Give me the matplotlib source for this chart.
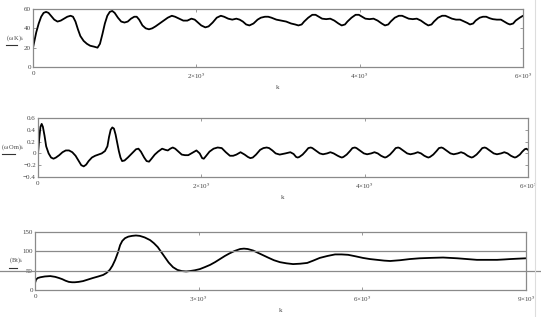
import matplotlib
matplotlib.use("Agg")
import matplotlib.pyplot as plt
from matplotlib.lines import Line2D
from matplotlib.transforms import blended_transform_factory
import numpy as np

# ---------------- data (k in thousands) ----------------
k_top = [0, 2, 4, 7, 10, 13, 16, 19, 22, 26, 30, 34, 38, 42, 46, 49, 52, 55, 58, 62,
         66, 70, 75, 79, 82, 85, 88, 91, 94, 97, 100, 104, 108, 112, 116, 120, 124, 127,
         130, 134, 138, 142, 146, 150, 155, 160, 165, 170, 174, 179, 184, 189, 194, 198,
         202, 206, 211, 215, 220, 225, 230, 234, 239, 244, 249, 253, 257, 261, 265, 270,
         275, 279, 284, 288, 292, 298, 304, 310, 316, 321,
         325, 329, 332, 337, 342, 346, 350, 354, 359, 364, 369, 374,
         378, 382, 385, 390, 395, 399, 403, 407, 412, 417, 422, 427,
         431, 435, 438, 443, 448, 452, 456, 460, 465, 470, 475, 480,
         484, 488, 491, 496, 501, 505, 509, 513, 518, 523, 528, 532,
         535, 539, 542, 547, 551, 555, 559, 563, 568, 573, 577, 581,
         584, 588, 591, 596, 600]
wK = [20, 28, 36, 45, 52, 56, 57, 56, 53, 49, 47, 48, 50, 52, 53, 52, 47, 39, 32, 27,
      24, 22, 21, 20, 24, 34, 45, 53, 57, 58, 56, 51, 47, 46, 47, 50, 52, 52,
      49, 43, 40, 39, 40, 42, 45, 48, 51, 53, 52, 50, 48, 48, 50, 49,
      46, 43, 41, 42, 46, 51, 53, 52, 50, 49, 50, 49, 47, 44, 43, 45,
      49, 51, 52, 52, 51, 49, 48, 47, 45, 44,
      43, 44, 47, 51, 54, 54, 52, 50, 49.5, 50, 48, 45,
      43, 44, 47, 51, 54, 54, 52, 50, 49.5, 50, 48, 45,
      43, 44, 47, 51, 53, 53, 51.5, 50, 49.5, 50, 48, 45,
      43, 44, 47, 51, 53, 53, 51.5, 50, 49, 49, 47, 45.5,
      44, 45, 48, 51, 52, 52, 50.5, 49.5, 49, 49, 47, 45,
      44, 45, 48, 51, 53]

k_mid = [0, 1.5, 3, 4.5, 6, 8, 10, 13, 16, 19, 22, 26, 30, 34, 38, 42, 46, 50, 53, 56,
         59, 62, 66, 70, 74, 78, 82, 85, 87, 89, 91, 93, 95, 97, 99, 101, 103, 106, 110,
         115, 120, 123, 126, 130, 133, 136, 139, 143, 147, 152, 156, 159, 162, 165, 168,
         172, 176, 180, 184, 189, 194, 198, 201, 203, 206, 210, 215, 220, 225, 230, 235,
         239, 243, 248, 253, 257, 260, 263, 267, 272, 276, 280, 283, 287, 291, 296, 303,
         309, 313,
         316, 318, 320, 324, 328, 331, 334, 336, 340, 345, 349, 354, 358, 362, 367,
         370, 372, 374, 378, 382, 385, 388, 390, 394, 399, 403, 408, 412, 416, 420,
         423, 425, 427, 431, 435, 438, 441, 443, 447, 452, 456, 461, 465, 469, 473,
         476, 478, 480, 484, 488, 491, 494, 496, 500, 505, 509, 514, 518, 522, 526,
         529, 531, 533, 537, 541, 544, 547, 549, 553, 558, 562, 567, 571, 575, 579,
         582, 584, 586, 590, 593, 596, 598, 600]
wOm = [0.0, 0.25, 0.45, 0.5, 0.45, 0.3, 0.12, 0.0, -0.07, -0.09, -0.07, -0.03, 0.02, 0.05,
       0.05, 0.02, -0.04, -0.13, -0.2, -0.22, -0.19, -0.13, -0.07, -0.04, -0.02, 0.0, 0.04,
       0.12, 0.28, 0.4, 0.44, 0.42, 0.32, 0.18, 0.04, -0.07, -0.13, -0.12, -0.07,
       0.0, 0.07, 0.08, 0.03, -0.07, -0.13, -0.14, -0.09, -0.02, 0.03, 0.08, 0.06, 0.05,
       0.08, 0.1, 0.08, 0.03, -0.02, -0.03, -0.03, 0.01, 0.05, 0.0, -0.08, -0.09, -0.04,
       0.03, 0.08, 0.1, 0.09, 0.02, -0.04, -0.04, -0.02, 0.02, -0.02, -0.06, -0.08, -0.07,
       -0.02, 0.06, 0.09, 0.1, 0.09, 0.05, 0.0, -0.02, 0.0, 0.02, -0.01,
       -0.06, -0.07, -0.06, -0.02, 0.04, 0.09, 0.1, 0.09, 0.05, 0.0, -0.015, 0.0, 0.02, 0.0, -0.04,
       -0.06, -0.07, -0.06, -0.02, 0.04, 0.09, 0.1, 0.09, 0.05, 0.0, -0.015, 0.0, 0.02, 0.0, -0.04,
       -0.06, -0.07, -0.06, -0.02, 0.04, 0.09, 0.1, 0.09, 0.05, 0.0, -0.015, 0.0, 0.02, 0.0, -0.04,
       -0.06, -0.07, -0.06, -0.02, 0.04, 0.09, 0.1, 0.09, 0.05, 0.0, -0.015, 0.0, 0.02, 0.0, -0.04,
       -0.06, -0.07, -0.06, -0.02, 0.04, 0.09, 0.1, 0.09, 0.05, 0.0, -0.015, 0.0, 0.02, 0.0, -0.04,
       -0.06, -0.07, -0.06, -0.02, 0.03, 0.07, 0.08, 0.06]

k_bot = [0, 2, 5, 10, 18, 28, 37, 44, 50, 56, 62, 68, 73, 80, 88, 97, 106, 116, 125, 131,
         137, 142, 147, 152, 156, 160, 165, 171, 178, 185, 192, 201, 211, 218, 225, 231,
         238, 245, 253, 261, 269, 277, 284, 293, 302, 311, 321, 330, 339, 348, 357, 366,
         376, 383, 390, 400, 409, 418, 427, 438, 449, 461, 473, 486, 499, 510, 522, 536,
         550, 562, 574, 588, 601, 614, 627, 640, 651, 669, 687, 705, 724, 748, 774, 792,
         810, 830, 847, 860, 871, 885, 900]
Bt = [18, 27, 31, 33, 35, 36, 34, 31, 28, 24, 21, 20, 20, 21, 23, 27, 31, 35, 39, 44,
      52, 63, 78, 97, 116, 127, 134, 138, 140, 141, 140, 136, 129, 121, 111, 99,
      85, 71, 59, 52, 49, 48, 49, 51, 54, 59, 65, 72, 80, 88, 95, 101,
      106, 107, 106, 102, 96, 90, 84, 77, 72, 69, 67, 68, 70, 76, 83, 88,
      92, 92, 91, 87, 83, 80, 78, 76, 75, 77, 80, 82, 83, 84, 82, 80,
      78, 78, 78, 79, 80, 81, 82]

top_xticks = [0, 200, 400, 600]
top_xlabels = ["0", "2×10$^5$", "4×10$^5$", "6×10$^5$"]
top_yticks = [0, 20, 40, 60]
mid_yticks = [-0.4, -0.2, 0, 0.2, 0.4, 0.6]
mid_ylabels = ["−0.4", "−0.2", "0", "0.2", "0.4", "0.6"]
bot_xticks = [0, 300, 600, 900]
bot_xlabels = ["0", "3×10$^5$", "6×10$^5$", "9×10$^5$"]
bot_yticks = [0, 50, 100, 150]

# ---------------- style ----------------
plt.rcParams['font.family'] = ['Liberation Serif', 'DejaVu Serif']
plt.rcParams['mathtext.fontset'] = 'stix'
FS = 5
TXT = '#444444'
FRAME = '#8a8a8a'

W, H = 541, 317
fig = plt.figure(figsize=(W / 100, H / 100), dpi=100)
fig.patch.set_facecolor('white')


def px_axes(l, t, r, b):
    return fig.add_axes([l / W, 1 - b / H, (r - l) / W, (b - t) / H])


def style(ax):
    for s in ax.spines.values():
        s.set_color(FRAME)
        s.set_linewidth(0.9)
    ax.tick_params(direction='in', length=2.5, width=0.6, colors=FRAME,
                   labelcolor=TXT, labelsize=FS, top=True, right=True, pad=1.5)
    ax.tick_params(axis='x', pad=3)


def ylabel(text, x0, x1, ytext, yline):
    fig.text((x0 + x1) / 2 / W, 1 - ytext / H, text, fontsize=4.6, color=TXT,
             ha='center', va='center')
    fig.add_artist(Line2D([x0 / W, (x0 + (x1 - x0) * 0.6) / W],
                          [1 - yline / H, 1 - yline / H], color='#333333', lw=0.8))


LW = dict(color='black', lw=1.3, solid_joinstyle='round', solid_capstyle='round')

# panel 1
ax1 = px_axes(33, 9, 523, 67)
ax1.plot(np.array(k_top), wK, **LW)
ax1.set_xlim(0, 600)
ax1.set_ylim(0, 60)
ax1.set_xticks(top_xticks, top_xlabels)
ax1.set_yticks(top_yticks)
style(ax1)
ax1.set_xlabel('k', fontsize=FS, color=TXT, labelpad=3)
ylabel('(ω K)$_k$', 6, 25, 38, 45)

# panel 2
ax2 = px_axes(38, 118, 528, 177)
ax2.plot(np.array(k_mid), wOm, **LW)
ax2.set_xlim(0, 600)
ax2.set_ylim(-0.4, 0.6)
ax2.set_xticks(top_xticks, top_xlabels)
ax2.set_yticks(mid_yticks, mid_ylabels)
style(ax2)
ax2.set_xlabel('k', fontsize=FS, color=TXT, labelpad=3)
ylabel('(ω Om)$_k$', 2, 24, 147, 154)

# panel 3
ax3 = px_axes(35, 232, 526, 290)
ax3.plot(np.array(k_bot), Bt, **LW)
ax3.set_xlim(0, 900)
ax3.set_ylim(0, 150)
ax3.set_xticks(bot_xticks, bot_xlabels)
ax3.set_yticks(bot_yticks)
style(ax3)
ax3.axhline(100, color=FRAME, lw=0.9)
tr = blended_transform_factory(fig.transFigure, ax3.transData)
fig.add_artist(Line2D([0, 1], [50, 50], transform=tr, color=FRAME, lw=0.9))
ax3.set_xlabel('k', fontsize=FS, color=TXT, labelpad=3)
ylabel('(Bt)$_k$', 9, 23, 260, 268)

# faint vertical separator on the right
fig.add_artist(Line2D([535 / W, 535 / W], [0, 1], color='#dddddd', lw=0.8))

fig.savefig('out.png', dpi=100, facecolor='white')
